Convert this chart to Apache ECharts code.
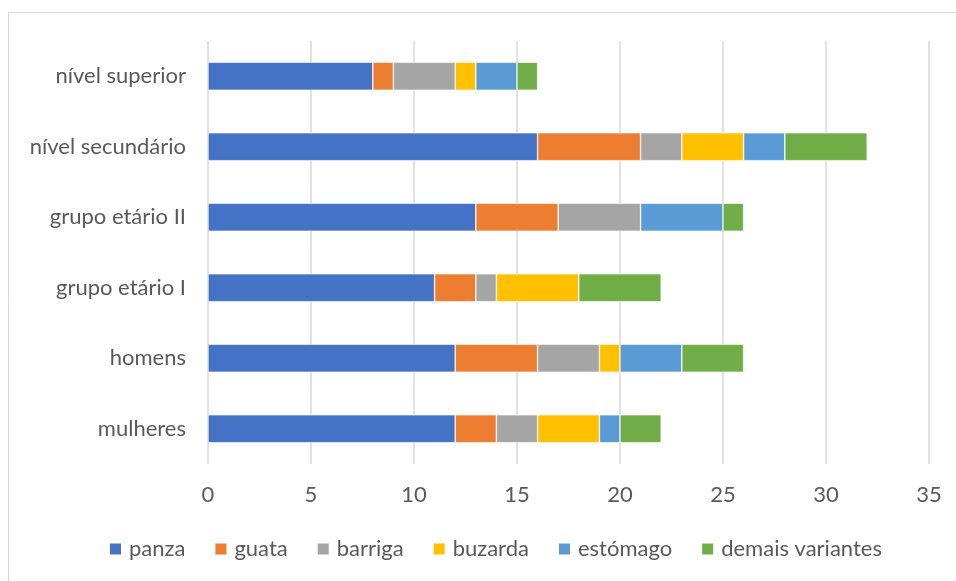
<!DOCTYPE html>
<html>
<head>
<meta charset="utf-8">
<script src="https://cdn.jsdelivr.net/npm/echarts@6/dist/echarts.min.js"></script>
<style>
html,body{margin:0;padding:0;background:#fff;}
#chart{width:956px;height:581px;}
</style>
</head>
<body>
<div id="chart"></div>
<script>
const categories = ['mulheres', 'homens', 'grupo etário I', 'grupo etário II', 'nível secundário', 'nível superior'];
const seriesNames = ['panza', 'guata', 'barriga', 'buzarda', 'estómago', 'demais variantes'];
const panza    = [12, 12, 11, 13, 16, 8];
const guata    = [2, 4, 2, 4, 5, 1];
const barriga  = [2, 3, 1, 4, 2, 3];
const buzarda  = [3, 1, 4, 0, 3, 1];
const estomago = [1, 3, 0, 4, 2, 2];
const demais   = [2, 3, 4, 1, 4, 1];
const xTicks = [0, 5, 10, 15, 20, 25, 30, 35];

const colors = ['#4472C4', '#ED7D31', '#A5A5A5', '#FFC000', '#5B9BD5', '#70AD47'];
const values = [panza, guata, barriga, buzarda, estomago, demais];
const FONT = 'Lato';

const chart = echarts.init(document.getElementById('chart'));
chart.setOption({
  animation: false,
  textStyle: {fontFamily: FONT},
  graphic: [{
    type: 'rect', shape: {x: 8.5, y: 12.5, width: 1000, height: 1000},
    style: {fill: 'none', stroke: '#D9D9D9', lineWidth: 1}, silent: true, z: -1
  }],
  grid: {left: 208, right: 27, top: 41, bottom: 117, containLabel: false},
  xAxis: {
    type: 'value', min: xTicks[0], max: xTicks[xTicks.length - 1], interval: 5,
    axisLine: {show: false}, axisTick: {show: false},
    splitLine: {lineStyle: {color: '#D9D9D9', width: 1.5}},
    axisLabel: {color: '#595959', fontSize: 22, margin: 20, fontFamily: FONT}
  },
  yAxis: {
    type: 'category', data: categories,
    axisLine: {show: false}, axisTick: {show: false},
    axisLabel: {color: '#595959', fontSize: 22, margin: 22, fontFamily: FONT}
  },
  legend: {
    bottom: 16, left: 103, itemWidth: 13, itemHeight: 13, itemGap: 28,
    icon: 'rect',
    textStyle: {color: '#595959', fontSize: 22, fontFamily: FONT, padding: [0, 0, 0, 2]},
    data: seriesNames
  },
  series: seriesNames.map((name, i) => ({
    name: name, type: 'bar', stack: 'total', data: values[i],
    barWidth: 28,
    itemStyle: {color: colors[i], borderColor: '#fff', borderWidth: 0.6}
  }))
});
</script>
</body>
</html>
